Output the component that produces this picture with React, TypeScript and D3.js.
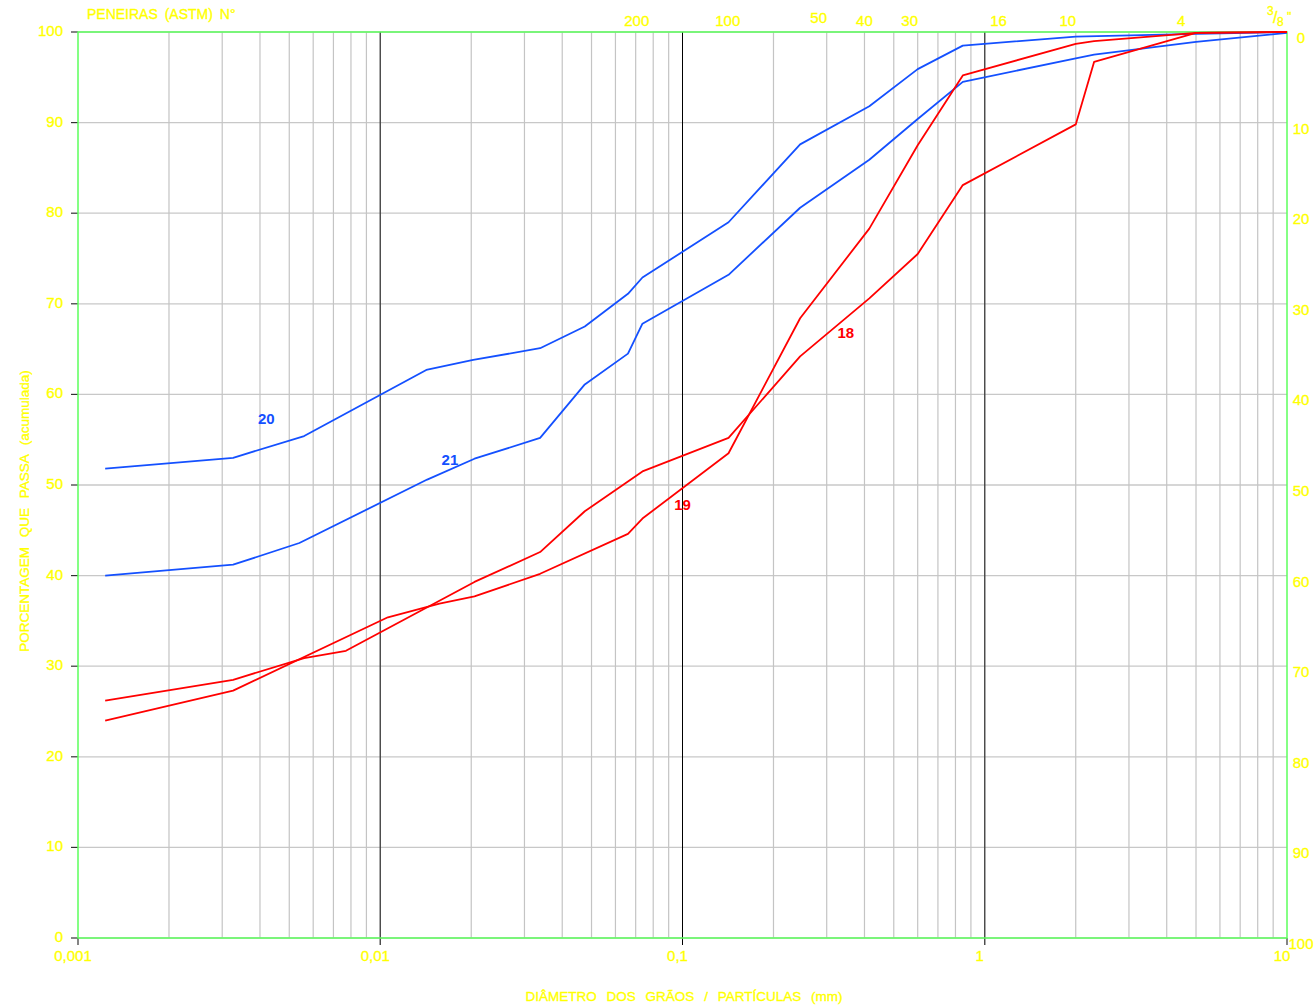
import React from "react";
import * as d3 from "d3";

// ---- data ----
const s20Diam = [0.00123, 0.00326, 0.0056, 0.0142, 0.0203, 0.0338, 0.0475, 0.066, 0.0737, 0.142, 0.245, 0.415, 0.6, 0.846, 2.0, 5.0, 10];
const s20Pass = [51.8, 53.0, 55.4, 62.7, 63.8, 65.1, 67.5, 71.1, 72.9, 79.0, 87.6, 91.8, 95.9, 98.5, 99.5, 99.8, 100];

const s21Diam = [0.00123, 0.00326, 0.0054, 0.0143, 0.0205, 0.0338, 0.0475, 0.066, 0.0737, 0.142, 0.245, 0.415, 0.6, 0.846, 2.0, 2.3, 5.0, 10];
const s21Pass = [40.0, 41.2, 43.6, 50.6, 52.9, 55.2, 61.1, 64.5, 67.8, 73.2, 80.6, 85.9, 90.4, 94.5, 97.1, 97.5, 98.9, 99.9];

const s18Diam = [0.00123, 0.00326, 0.0056, 0.0077, 0.0205, 0.0338, 0.0475, 0.0737, 0.142, 0.245, 0.415, 0.6, 0.846, 2.0, 2.3, 5.0, 10];
const s18Pass = [26.2, 28.5, 30.9, 31.7, 39.3, 42.6, 47.1, 51.5, 55.2, 64.2, 70.6, 75.5, 83.1, 89.8, 96.7, 99.9, 100];

const s19Diam = [0.00123, 0.00326, 0.0106, 0.0157, 0.0205, 0.0338, 0.066, 0.0737, 0.142, 0.245, 0.415, 0.6, 0.846, 2.0, 2.3, 5.0, 10];
const s19Pass = [24.0, 27.3, 35.4, 36.9, 37.7, 40.2, 44.6, 46.3, 53.5, 68.4, 78.3, 87.5, 95.2, 98.7, 99.0, 99.9, 100];

const seriesNames = ["20", "21", "18", "19"];
const seriesColors = ["#1450ff", "#1450ff", "#ff0000", "#ff0000"];
// label anchor (diameter, percent) for each curve's number
const labelDiam = [0.0042, 0.017, 0.347, 0.1];
const labelPass = [57.2, 52.6, 66.7, 47.7];

const sieveLabels = ["200", "100", "50", "40", "30", "16", "10", "4"];
const sieveSizes = [0.075, 0.15, 0.3, 0.425, 0.6, 1.18, 2.0, 4.75];

const xTickValues = [0.001, 0.01, 0.1, 1, 10];
const xTickLabels = ["0,001", "0,01", "0,1", "1", "10"];
const yTickValues = [0, 10, 20, 30, 40, 50, 60, 70, 80, 90, 100];

const W = 1316;
const H = 1007;
const L = 78, R = 1287, T = 32, B = 938;

const YELLOW = "#ffff00";
const GREEN = "#5cff5c";
const FONT = "'Liberation Sans', Arial, sans-serif";

export default function App() {
  const xs = d3.scaleLog().domain([0.001, 10]).range([L, R]);
  const ys = d3.scaleLinear().domain([0, 100]).range([B, T]);

  const minor: number[] = [];
  for (let e = -3; e <= 0; e++) {
    for (let k = 2; k <= 9; k++) minor.push(k * Math.pow(10, e));
  }
  const decades = [0.01, 0.1, 1];

  const series = [
    { d: s20Diam, p: s20Pass },
    { d: s21Diam, p: s21Pass },
    { d: s18Diam, p: s18Pass },
    { d: s19Diam, p: s19Pass },
  ];
  const line = d3
    .line<[number, number]>()
    .x((v) => xs(v[0]))
    .y((v) => ys(v[1]));

  const yText = { fill: YELLOW, stroke: YELLOW, strokeWidth: 0.35 };
  const xr = xs(10);

  return (
    <svg
      width={W}
      height={H}
      style={{ position: "absolute", left: 0, top: 0, background: "#fff" }}
      fontFamily={FONT}
    >
      <rect x={0} y={0} width={W} height={H} fill="#fff" />
      {/* horizontal grid */}
      {yTickValues.map((v) => (
        <line key={"h" + v} x1={L} x2={R} y1={ys(v)} y2={ys(v)} stroke="#c8c8c8" strokeWidth={1.3} />
      ))}
      {/* minor vertical grid */}
      {minor.map((v, i) => (
        <line key={"m" + i} x1={xs(v)} x2={xs(v)} y1={T} y2={B} stroke="#c4c4c4" strokeWidth={1.2} />
      ))}
      {decades.map((v, i) => (
        <line key={"d" + i} x1={xs(v)} x2={xs(v)} y1={T} y2={B + 7} stroke={i === 1 ? "#000" : "#444"} strokeWidth={i === 1 ? 1 : 1.4} />
      ))}
      {/* end ticks */}
      <line x1={L} x2={L} y1={B} y2={B + 7} stroke="#333" strokeWidth={1.2} />
      <line x1={R} x2={R} y1={B} y2={B + 7} stroke="#333" strokeWidth={1.2} />
      {/* left ticks */}
      {yTickValues.map((v) => (
        <line key={"t" + v} x1={L - 7} x2={L} y1={ys(v)} y2={ys(v)} stroke="#333" strokeWidth={1.2} />
      ))}
      {/* frame */}
      <rect x={L} y={T} width={R - L} height={B - T} fill="none" stroke={GREEN} strokeWidth={1.5} />

      {/* curves */}
      {series.map((s, i) => (
        <path
          key={"s" + i}
          d={line(s.d.map((dv, j) => [dv, s.p[j]] as [number, number])) || ""}
          fill="none"
          stroke={seriesColors[i]}
          strokeWidth={1.8}
          strokeLinejoin="round"
        />
      ))}
      {seriesNames.map((n, i) => (
        <text
          key={"n" + i}
          x={xs(labelDiam[i])}
          y={ys(labelPass[i])}
          fill={seriesColors[i]}
          fontSize={15}
          fontWeight="bold"
          textAnchor="middle"
          dominantBaseline="middle"
        >
          {n}
        </text>
      ))}

      {/* left y labels */}
      {yTickValues.map((v) => (
        <text key={"yl" + v} x={L - 15} y={ys(v)} {...yText} fontSize={15} textAnchor="end" dominantBaseline="middle">
          {v}
        </text>
      ))}
      {/* right y labels (retained) */}
      {yTickValues.map((v) => (
        <text key={"yr" + v} x={R + 14} y={ys(100 - v) + 7} {...yText} fontSize={15} textAnchor="middle" dominantBaseline="middle">
          {v}
        </text>
      ))}
      {/* bottom x labels */}
      {xTickValues.map((v, i) => (
        <text key={"xl" + i} x={xs(v) - 5} y={B + 19} {...yText} fontSize={15} textAnchor="middle" dominantBaseline="middle">
          {xTickLabels[i]}
        </text>
      ))}
      {/* sieve labels */}
      {sieveLabels.map((s, i) => (
        <text key={"sv" + i} x={xs(sieveSizes[i]) - 8} y={s === "50" ? 19 : 22} {...yText} fontSize={15} textAnchor="middle" dominantBaseline="middle">
          {s}
        </text>
      ))}
      <text {...yText} fontSize={12}>
        <tspan x={xr - 20} y={15}>3</tspan>
        <tspan x={xr - 14} y={23} fontSize={16}>/</tspan>
        <tspan x={xr - 10} y={26}>8</tspan>
        <tspan x={xr} y={21}>"</tspan>
      </text>

      {/* titles */}
      <text x={87} y={15} {...yText} fontSize={14} dominantBaseline="middle" wordSpacing={3}>
        PENEIRAS (ASTM) N°
      </text>
      <text x={684} y={997} {...yText} fontSize={13.5} textAnchor="middle" dominantBaseline="middle" wordSpacing={6}>
        DIÂMETRO DOS GRÃOS / PARTÍCULAS (mm)
      </text>
      <text
        transform={`translate(25,511) rotate(-90)`}
        {...yText}
        fontSize={13.5}
        textAnchor="middle"
        dominantBaseline="middle"
        wordSpacing={6}
      >
        PORCENTAGEM QUE PASSA (acumulada)
      </text>
    </svg>
  );
}
